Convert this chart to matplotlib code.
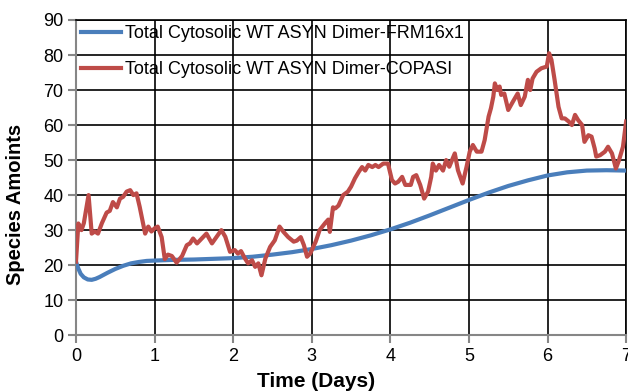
import numpy as np
import matplotlib
matplotlib.use('Agg')
import matplotlib.pyplot as plt

plt.rcParams['font.family'] = ['Liberation Sans', 'DejaVu Sans']

# FRM16x1 smooth solution
frm_t = [0, 0.03, 0.06, 0.1, 0.15, 0.2, 0.25, 0.3, 0.4, 0.5, 0.6, 0.7, 0.8,
         0.9, 1.0, 1.25, 1.5, 1.75, 2.0, 2.25, 2.5, 2.75, 3.0, 3.25, 3.5,
         3.75, 4.0, 4.25, 4.5, 4.75, 5.0, 5.25, 5.5, 5.75, 6.0, 6.25, 6.5,
         6.75, 7.0]
frm_y = [21, 19, 17.5, 16.5, 15.9, 15.8, 16.1, 16.6, 17.8, 18.9, 19.8, 20.5,
         20.9, 21.2, 21.3, 21.5, 21.6, 21.8, 22.0, 22.4, 23.0, 23.7, 24.6,
         25.7, 27.0, 28.5, 30.2, 32.1, 34.2, 36.4, 38.6, 40.7, 42.6, 44.2,
         45.6, 46.5, 47.0, 47.1, 47.0]

# COPASI stochastic run
cop_t = [0, 0.03, 0.07, 0.1, 0.16, 0.2, 0.24, 0.28, 0.33, 0.39, 0.43, 0.47,
         0.52, 0.56, 0.6, 0.645, 0.69, 0.73, 0.77, 0.81, 0.88, 0.92, 0.96,
         1.0, 1.04, 1.09, 1.13, 1.17, 1.22, 1.28, 1.35, 1.41, 1.45, 1.49,
         1.54, 1.6, 1.66, 1.73, 1.79, 1.85, 1.9, 1.96, 2.02, 2.06, 2.1,
         2.15, 2.19, 2.24, 2.28, 2.32, 2.36, 2.41, 2.47, 2.53, 2.59, 2.64,
         2.7, 2.77, 2.81, 2.86, 2.9, 2.94, 2.98, 3.05, 3.1, 3.17, 3.21,
         3.23, 3.27, 3.3, 3.34, 3.4, 3.46, 3.5, 3.55, 3.6, 3.64, 3.68,
         3.72, 3.77, 3.81, 3.85, 3.91, 3.97, 4.02, 4.06, 4.1, 4.15, 4.19,
         4.26, 4.29, 4.33, 4.38, 4.43, 4.48, 4.52, 4.54, 4.58, 4.62, 4.67,
         4.71, 4.75, 4.82, 4.86, 4.92, 4.97, 5.01, 5.05, 5.1, 5.16, 5.2,
         5.25, 5.28, 5.31, 5.33, 5.36, 5.39, 5.41, 5.45, 5.5, 5.56, 5.62,
         5.66, 5.71, 5.75, 5.78, 5.81, 5.86, 5.92, 5.99, 6.02, 6.05, 6.09,
         6.14, 6.18, 6.22, 6.27, 6.31, 6.35, 6.39, 6.44, 6.47, 6.52, 6.56,
         6.6, 6.62, 6.67, 6.73, 6.77, 6.82, 6.87, 6.91, 6.96, 7.0]
cop_y = [21, 31.9, 30, 32, 40, 29, 29.6, 29, 32, 35, 35.5, 38,
         36.5, 39, 39.5, 41, 41.4, 40, 40.5, 36.7, 29, 31, 29.6,
         30.5, 31, 28, 21.7, 23, 22.6, 20.7, 22.6, 25.7, 26.2, 27.6,
         26.2, 27.6, 29, 26.2, 28.1, 30, 28.1, 23.8, 24.3, 23.3, 24,
         21.9, 20.5, 21.4, 19.5, 20.5, 17.1, 21.9, 25.2, 27.1, 31, 29.5,
         28, 26.7, 27, 28, 25.7, 22.4, 23.3, 26.7, 30, 32, 33,
         29.5, 36.5, 36.2, 37, 40, 41, 42.4, 44.8, 46.7, 48, 47,
         48.6, 48, 48.6, 48, 49, 49, 44.3, 43.3, 43.8, 45.2, 42.9,
         42.9, 45.2, 45.7, 42.9, 39, 41, 45.2, 49, 47, 48.6, 47,
         50, 48.1, 51.9, 47.1, 43.3, 48.1, 52.4, 54.3, 52.4, 52.4, 55.7,
         62.4, 64.8, 68.1, 71.9, 70, 71, 68.6, 69, 64.3, 66.7, 69,
         65.7, 68.1, 72.9, 70, 73.3, 75.2, 76.2, 76.7, 80.5, 78.6, 72.9,
         65.2, 61.9, 61.9, 61, 60, 62.9, 61.4, 60, 55.2, 57.1, 56.7,
         53.3, 51, 51.4, 52.4, 53.8, 51.9, 47.6, 50, 53.8, 61]

x_ticks = [0, 1, 2, 3, 4, 5, 6, 7]
y_ticks = [0, 10, 20, 30, 40, 50, 60, 70, 80, 90]

fig = plt.figure(figsize=(6.28, 3.92), dpi=100)
ax = fig.add_axes([0.121, 0.145, 0.876, 0.804])

ax.plot(frm_t, frm_y, color='#4a7ebb', lw=3.0, solid_joinstyle='round',
        label='Total Cytosolic WT ASYN Dimer-FRM16x1', zorder=3)
ax.plot(cop_t, cop_y, color='#be4b48', lw=3.0, solid_joinstyle='round',
        label='Total Cytosolic WT ASYN Dimer-COPASI', zorder=3)

ax.set_xlim(0, 7)
ax.set_ylim(0, 90)
ax.set_xticks(x_ticks)
ax.set_yticks(y_ticks)
ax.grid(True, color='black', lw=1.2)
ax.set_axisbelow(True)
for side in ['left', 'bottom']:
    ax.spines[side].set_color('#868686')
    ax.spines[side].set_linewidth(1.5)
for side in ['top', 'right']:
    ax.spines[side].set_color('black')
    ax.spines[side].set_linewidth(1.2)
ax.tick_params(direction='out', length=6, width=1.5, color='#868686',
               labelsize=13, pad=3)

ax.set_xlabel('Time (Days)', fontsize=15, fontweight='bold')
ax.set_ylabel('Species Amoints', fontsize=14.5, fontweight='bold')
ax.xaxis.set_label_coords(0.436, -0.117)
ax.yaxis.set_label_coords(-0.093, 0.416)

ax.legend(loc='upper left', bbox_to_anchor=(0.009, 0.983), frameon=False,
          fontsize=13, handlelength=2.2, handletextpad=0.25,
          labelspacing=1.05, borderpad=0, borderaxespad=0)

fig.savefig('out.png', dpi=100)
